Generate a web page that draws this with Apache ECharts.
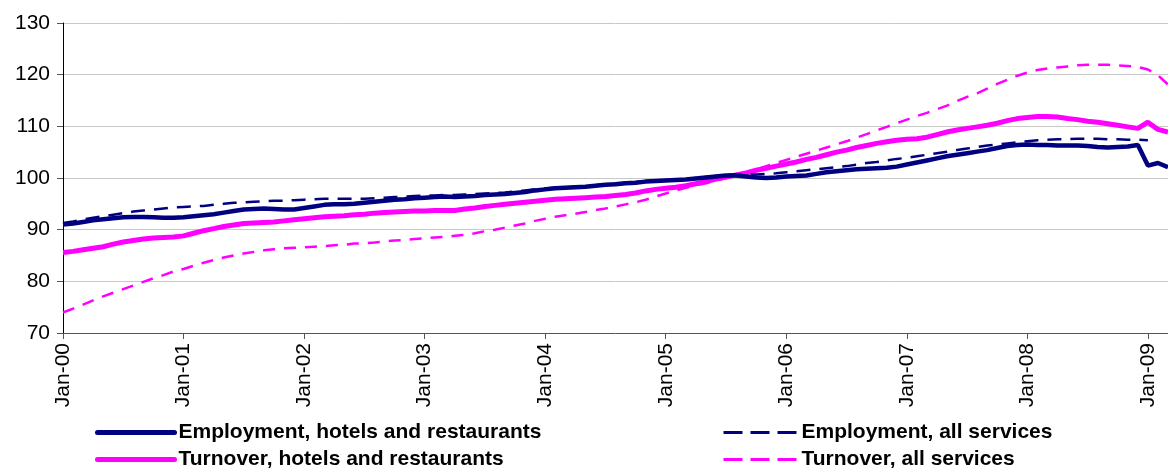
<!DOCTYPE html>
<html lang="en">
<head>
<meta charset="UTF-8">
<title>Employment and turnover</title>
<script src="https://cdn.jsdelivr.net/npm/echarts@6/dist/echarts.min.js"></script>
<style>
  html, body { margin: 0; padding: 0; background: #fff; }
  #main { width: 1168px; height: 468px; }
</style>
</head>
<body>
<div id="main"></div>
<script type="text/javascript">
// Monthly index values, Jan-00 .. Mar-09
const monthNames = ['Jan', 'Feb', 'Mar', 'Apr', 'May', 'Jun', 'Jul', 'Aug', 'Sep', 'Oct', 'Nov', 'Dec'];
const years = ['00', '01', '02', '03', '04', '05', '06', '07', '08', '09'];

const empHotels = [
  91.0, 91.2, 91.5, 91.8, 92.0, 92.2, 92.4, 92.45, 92.45, 92.4, 92.3, 92.3,
  92.4, 92.6, 92.8, 93.0, 93.3, 93.6, 93.9, 94.0, 94.1, 94.0, 93.9, 93.9,
  94.2, 94.5, 94.8, 94.9, 94.9, 95.0, 95.2, 95.4, 95.6, 95.8, 95.9, 96.1,
  96.2, 96.3, 96.4, 96.3, 96.4, 96.5, 96.7, 96.8, 96.9, 97.1, 97.3, 97.6,
  97.8, 98.0, 98.1, 98.2, 98.3, 98.5, 98.7, 98.8, 99.0, 99.1, 99.3, 99.4,
  99.5, 99.6, 99.7, 99.9, 100.1, 100.3, 100.5, 100.5, 100.3, 100.1, 100.0, 100.1,
  100.3, 100.4, 100.5, 100.8, 101.1, 101.3, 101.5, 101.7, 101.8, 101.9, 102.0, 102.2,
  102.6, 103.0, 103.4, 103.8, 104.2, 104.5, 104.8, 105.1, 105.4, 105.8, 106.2, 106.4,
  106.5, 106.4, 106.4, 106.3, 106.3, 106.3, 106.2, 106.0, 105.9, 106.0, 106.1, 106.4,
  102.4, 102.9, 102.1
];

const empAll = [
  91.3, 91.6, 92.0, 92.3, 92.6, 92.9, 93.2, 93.5, 93.7, 93.9, 94.1, 94.3,
  94.4, 94.5, 94.6, 94.8, 95.0, 95.2, 95.3, 95.4, 95.5, 95.6, 95.6, 95.7,
  95.8, 95.9, 96.0, 96.0, 96.0, 96.0, 96.0, 96.1, 96.2, 96.3, 96.4, 96.5,
  96.6, 96.6, 96.7, 96.7, 96.8, 96.9, 97.0, 97.1, 97.2, 97.4, 97.6, 97.8,
  98.0, 98.1, 98.2, 98.3, 98.4, 98.6, 98.8, 98.9, 99.1, 99.2, 99.4, 99.5,
  99.6, 99.7, 99.8, 100.0, 100.2, 100.4, 100.6, 100.7, 100.7, 100.7, 100.8, 100.9,
  101.1, 101.3, 101.5, 101.7, 101.9, 102.1, 102.3, 102.6, 102.9, 103.1, 103.4, 103.7,
  103.9, 104.2, 104.5, 104.8, 105.1, 105.4, 105.7, 106.0, 106.3, 106.5, 106.7, 106.9,
  107.1, 107.3, 107.4, 107.5, 107.5, 107.6, 107.6, 107.6, 107.5, 107.5, 107.4, 107.4,
  107.3, null, null
];

const turnHotels = [
  85.6, 85.8, 86.1, 86.4, 86.7, 87.2, 87.6, 87.9, 88.2, 88.4, 88.5, 88.6,
  88.8, 89.3, 89.8, 90.2, 90.6, 90.9, 91.2, 91.3, 91.4, 91.5, 91.7, 91.9,
  92.1, 92.3, 92.5, 92.6, 92.7, 92.9, 93.0, 93.2, 93.3, 93.4, 93.5, 93.6,
  93.6, 93.7, 93.7, 93.7, 94.0, 94.2, 94.5, 94.7, 94.9, 95.1, 95.3, 95.5,
  95.7, 95.9, 96.0, 96.1, 96.2, 96.3, 96.4, 96.6, 96.8, 97.1, 97.5, 97.8,
  98.0, 98.2, 98.5, 98.9, 99.3, 99.8, 100.2, 100.6, 101.0, 101.5, 101.9, 102.3,
  102.7, 103.1, 103.6, 104.0, 104.5, 105.0, 105.4, 105.9, 106.3, 106.7, 107.0, 107.3,
  107.5, 107.6, 107.9, 108.4, 108.9, 109.3, 109.6, 109.9, 110.2, 110.6, 111.1, 111.5,
  111.7, 111.9, 111.9, 111.8, 111.5, 111.3, 111.0, 110.8, 110.5, 110.2, 109.9, 109.6,
  110.8, 109.4, 108.9
];

const turnAll = [
  74.0, 74.7, 75.5, 76.3, 77.1, 77.8, 78.5, 79.2, 79.9, 80.6, 81.2, 81.9,
  82.4, 83.0, 83.6, 84.1, 84.6, 85.0, 85.4, 85.7, 86.0, 86.2, 86.4, 86.5,
  86.6, 86.7, 86.8, 87.0, 87.1, 87.3, 87.4, 87.5, 87.7, 87.9, 88.0, 88.2,
  88.3, 88.5, 88.6, 88.8, 89.0, 89.3, 89.7, 90.0, 90.4, 90.8, 91.2, 91.7,
  92.1, 92.5, 92.8, 93.1, 93.4, 93.8, 94.1, 94.5, 94.9, 95.3, 95.8, 96.4,
  97.0, 97.6, 98.1, 98.6, 99.0, 99.5, 100.0, 100.5, 101.0, 101.6, 102.3, 102.9,
  103.5, 104.1, 104.7, 105.3, 105.9, 106.5, 107.1, 107.8, 108.5, 109.2, 109.9, 110.6,
  111.3, 112.0, 112.6, 113.3, 114.0, 114.9, 115.7, 116.4, 117.3, 118.2, 119.0, 119.8,
  120.4, 120.9, 121.2, 121.4, 121.6, 121.8, 121.9, 121.9, 121.9, 121.8, 121.7, 121.5,
  121.0, 119.9, 118.1
];

// category labels Jan-00 .. Mar-09
const months = [];
years.forEach(y => monthNames.forEach(m => months.push(m + '-' + y)));
months.length = empHotels.length;

const chart = echarts.init(document.getElementById('main'));

const navy = '#000080';
const pink = '#FF00FF';
const font = 'Liberation Sans, Arial, sans-serif';

// one legend per entry so each sits exactly where the reference has it
function legendItem(name, left, top, width, lineStyle) {
  return {
    left: left, top: top, padding: 0, itemGap: 0,
    itemWidth: width, itemHeight: 14,
    itemStyle: { opacity: 0 },
    lineStyle: lineStyle,
    data: [name],
    textStyle: { fontFamily: font, fontSize: 21, fontWeight: 'bold', color: '#000', padding: [0, 0, 0, -1] }
  };
}

chart.setOption({
  animation: false,
  grid: { left: 63, right: 0, top: 23, bottom: 135, containLabel: false },
  legend: [
    legendItem('Employment, hotels and restaurants', 95, 422, 77, { width: 5, cap: 'round' }),
    legendItem('Turnover, hotels and restaurants', 95, 449, 77, { width: 5, cap: 'round' }),
    legendItem('Employment, all services', 722, 422, 74, { width: 3, type: [19, 8] }),
    legendItem('Turnover, all services', 722, 449, 74, { width: 3, type: [19, 8] })
  ],
  xAxis: {
    type: 'category',
    data: months,
    boundaryGap: false,
    axisLine: { lineStyle: { color: '#555', width: 1 } },
    axisTick: { interval: 11, length: 6, lineStyle: { color: '#555' } },
    axisLabel: {
      interval: 11, rotate: 90, margin: 10,
      fontFamily: font, fontSize: 21, color: '#000'
    },
    splitLine: { show: false }
  },
  yAxis: {
    type: 'value',
    min: 70, max: 130, interval: 10,
    axisLine: { show: true, lineStyle: { color: '#000', width: 1 } },
    axisTick: { show: true, length: 6, lineStyle: { color: '#555' } },
    axisLabel: { margin: 13, fontFamily: font, fontSize: 21, color: '#000' },
    splitLine: { lineStyle: { color: '#c8c8c8', width: 1 } }
  },
  series: [
    {
      name: 'Employment, hotels and restaurants', type: 'line', data: empHotels,
      symbol: 'none', color: navy, z: 4,
      lineStyle: { color: navy, width: 4.5 }
    },
    {
      name: 'Turnover, hotels and restaurants', type: 'line', data: turnHotels,
      symbol: 'none', color: pink, z: 3,
      lineStyle: { color: pink, width: 5 }
    },
    {
      name: 'Employment, all services', type: 'line', data: empAll,
      symbol: 'none', color: navy, z: 5,
      lineStyle: { color: navy, width: 2.5, type: [14, 9] }
    },
    {
      name: 'Turnover, all services', type: 'line', data: turnAll,
      symbol: 'none', color: pink, z: 2,
      lineStyle: { color: pink, width: 2.5, type: [12, 9] }
    }
  ]
});
</script>
</body>
</html>
